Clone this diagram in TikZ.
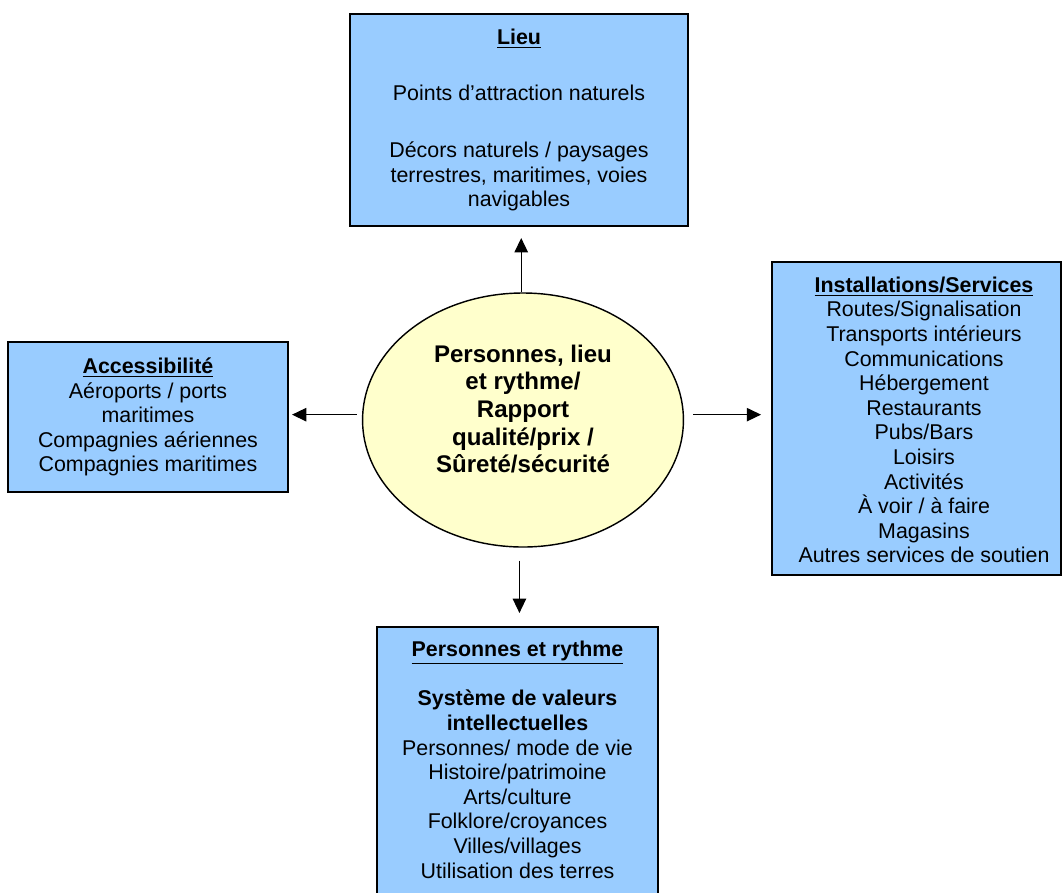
\documentclass[tikz,border=0pt]{standalone}
\usepackage{fontspec}
\setmainfont{Liberation Sans}
\usetikzlibrary{shapes.geometric, arrows.meta}

\tikzset{
    box/.style={draw, line width=1.1pt, fill=boxblue, align=center, inner sep=0pt,
        font=\fontsize{12}{13.8}\selectfont},
    boxtext/.style={align=center, inner sep=0pt, font=\fontsize{12}{13.8}\selectfont},
    hub/.style={draw, line width=0.8pt, fill=hubyellow, ellipse, inner sep=0pt,
        minimum width=180pt, minimum height=142.5pt},
    arr/.style={-{Triangle[length=8pt,width=7.5pt]}, line width=0.7pt}
}
\definecolor{boxblue}{RGB}{153,204,255}
\definecolor{hubyellow}{RGB}{255,255,204}

\begin{document}
\begin{tikzpicture}[x=0.561pt, y=-0.561pt]
    \useasboundingbox (0,0) rectangle (1063,892);
    % centre
    \node [hub] (hub) at (523,420) {};
    \node [align=center, font=\fontsize{13.5}{15.5}\selectfont\bfseries] (hubtext) at (523,409)
        {Personnes, lieu\\ et rythme/\\ Rapport\\ qualité/prix /\\ Sûreté/sécurité};
    % boxes
    \node [box, minimum width=189.6pt, minimum height=118.9pt] (lieu) at (519,120)
        {\textbf{\underline{Lieu}}\\[17.5pt]
         Points d’attraction naturels\\[18.5pt]
         Décors naturels / paysages\\ terrestres, maritimes, voies\\ navigables};
    \node [box, minimum width=157.1pt, minimum height=84.2pt] (acc) at (148,417)
        {\textbf{\underline{Accessibilité}}\\ Aéroports / ports\\ maritimes\\
         Compagnies aériennes\\ Compagnies maritimes};
    \node [box, minimum width=162.1pt, minimum height=175.6pt] (inst) at (916.5,418.5) {};
    \node [boxtext] (insttext) at (924,420)
        {\textbf{\underline{Installations/Services}}\\ Routes/Signalisation\\
         Transports intérieurs\\ Communications\\ Hébergement\\ Restaurants\\
         Pubs/Bars\\ Loisirs\\ Activités\\ À voir / à faire\\ Magasins\\
         Autres services de soutien};
    \node [box, minimum width=157.6pt, inner ysep=8pt, anchor=north] (pers) at (517.5,626)
        {\textbf{\underline{Personnes et rythme}}\\[13.8pt]
         \textbf{Système de valeurs}\\ \textbf{intellectuelles}\\
         Personnes/ mode de vie\\ Histoire/patrimoine\\ Arts/culture\\
         Folklore/croyances\\ Villes/villages\\ Utilisation des terres\\[6pt]};
    % arrows
    \draw [arr, shorten >=6.2pt] ([xshift=-1pt]hub.north) -- ([xshift=-1pt]hub.north |- lieu.south);
    \draw [arr, shorten <=2.8pt, shorten >=1.7pt] ([yshift=3pt]hub.west) -- ([yshift=3pt]hub.west -| acc.east);
    \draw [arr, shorten <=5pt, shorten >=5.6pt] ([yshift=3pt]hub.east) -- ([yshift=3pt]hub.east -| inst.west);
    \draw [arr, shorten <=7.3pt, shorten >=7.3pt] ([xshift=-2pt]hub.south) -- ([xshift=-2pt]hub.south |- pers.north);
\end{tikzpicture}
\end{document}
